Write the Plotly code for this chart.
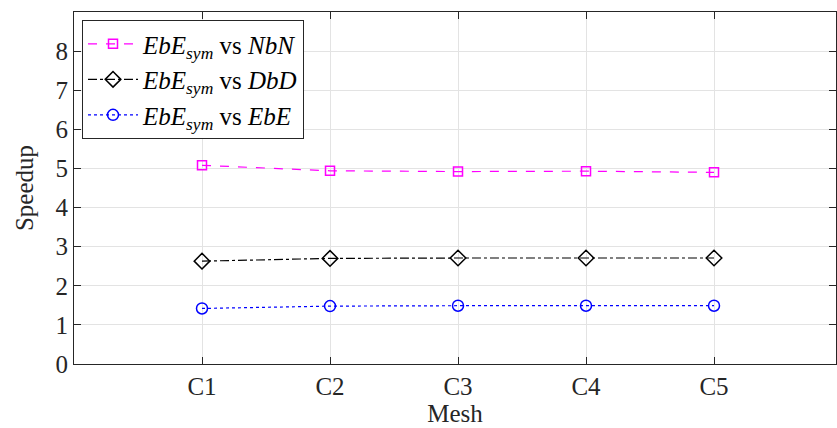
import plotly.graph_objects as go

meshes = ["C1", "C2", "C3", "C4", "C5"]
x_pos = [1, 2, 3, 4, 5]
nbn = [5.08, 4.94, 4.92, 4.93, 4.90]
dbd = [2.63, 2.70, 2.71, 2.71, 2.71]
ebe = [1.42, 1.48, 1.49, 1.49, 1.49]
y_ticks = [0, 1, 2, 3, 4, 5, 6, 7, 8]

FONT = "Liberation Serif, Times New Roman, serif"

fig = go.Figure()
fig.add_trace(go.Scatter(
    x=x_pos, y=nbn, mode="lines+markers",
    name="<i>EbE</i><sub><i>sym</i></sub> vs <i>NbN</i>",
    line=dict(color="#ff00ff", width=1.2, dash="dash"),
    marker=dict(symbol="square-open", size=9, color="#ff00ff", line=dict(width=1.5))))
fig.add_trace(go.Scatter(
    x=x_pos, y=dbd, mode="lines+markers",
    name="<i>EbE</i><sub><i>sym</i></sub> vs <i>DbD</i>",
    line=dict(color="#000000", width=1.2, dash="dashdot"),
    marker=dict(symbol="diamond-open", size=12, color="#000000", line=dict(width=1.5))))
fig.add_trace(go.Scatter(
    x=x_pos, y=ebe, mode="lines+markers",
    name="<i>EbE</i><sub><i>sym</i></sub> vs <i>EbE</i>",
    line=dict(color="#0000ff", width=1.2, dash="dot"),
    marker=dict(symbol="circle-open", size=11, color="#0000ff", line=dict(width=1.5))))

fig.update_layout(
    width=837, height=428,
    margin=dict(l=74, r=1, t=12, b=64),
    paper_bgcolor="white", plot_bgcolor="white",
    font=dict(family=FONT, size=24, color="#262626"),
    showlegend=True,
    legend=dict(x=0.0105, y=0.977, xanchor="left", yanchor="top",
                bordercolor="#262626", borderwidth=1, bgcolor="white",
                font=dict(family=FONT, size=25, color="#000000"),
                tracegroupgap=0, itemwidth=50),
)
fig.update_xaxes(
    range=[0, 5.953], tickmode="array", tickvals=x_pos, ticktext=meshes,
    showgrid=True, gridcolor="#e3e3e3", gridwidth=1,
    showline=True, linecolor="#262626", linewidth=1, mirror="ticks",
    ticks="inside", ticklen=7, tickcolor="#262626",
    zeroline=False,
    title=dict(text="Mesh", font=dict(family=FONT, size=25), standoff=2),
    tickfont=dict(family=FONT, size=25, color="#262626"),
)
fig.update_yaxes(
    range=[0, 9], tickmode="array", tickvals=y_ticks,
    showgrid=True, gridcolor="#e3e3e3", gridwidth=1,
    showline=True, linecolor="#262626", linewidth=1, mirror="ticks",
    ticks="inside", ticklen=7, tickcolor="#262626",
    zeroline=False,
    title=dict(text="Speedup", font=dict(family=FONT, size=25), standoff=14),
    tickfont=dict(family=FONT, size=25, color="#262626"),
)

fig.write_html("out.html")
